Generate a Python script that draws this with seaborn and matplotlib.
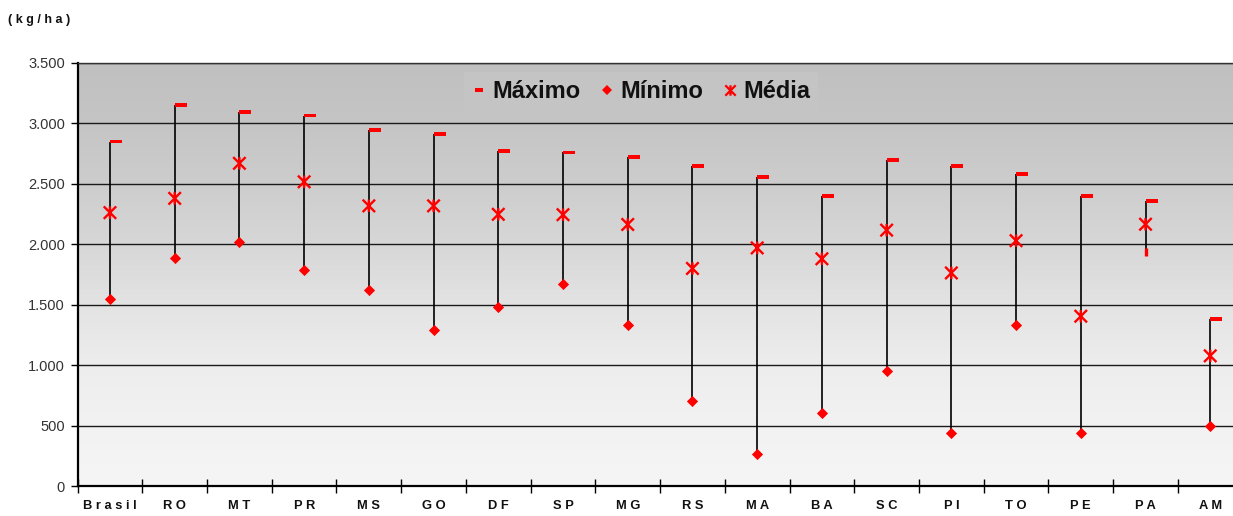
import numpy as np
import pandas as pd
import matplotlib
matplotlib.use("Agg")
import matplotlib.pyplot as plt
from matplotlib.path import Path
from matplotlib.lines import Line2D
from matplotlib.ticker import FuncFormatter
import seaborn as sns

# ---------------- data ----------------
categories = ["Brasil", "RO", "MT", "PR", "MS", "GO", "DF", "SP", "MG",
              "RS", "MA", "BA", "SC", "PI", "TO", "PE", "PA", "AM"]
maximo = [2850, 3155, 3095, 3065, 2945, 2915, 2775, 2760, 2725,
          2650, 2555, 2400, 2695, 2650, 2585, 2400, 2355, 1385]
minimo = [1545, 1888, 2015, 1790, 1625, 1290, 1483, 1670, 1335,
          700, 268, 606, 953, 436, 1330, 436, 1935, 500]
media = [2262, 2380, 2670, 2517, 2318, 2318, 2248, 2245, 2164,
         1800, 1970, 1880, 2117, 1763, 2030, 1405, 2166, 1077]
y_ticks = [0, 500, 1000, 1500, 2000, 2500, 3000, 3500]
legend_labels = ["Máximo", "Mínimo", "Média"]
unit_label = "(kg/ha)"

# ---------------- style ----------------
sns.set_theme(style="white")
plt.rcParams["font.family"] = ["Liberation Sans", "DejaVu Sans"]

df = pd.DataFrame({"estado": categories, "max": maximo,
                   "min": minimo, "media": media})
n = len(categories)

W, H = 1233, 516
fig = plt.figure(figsize=(W / 100, H / 100), dpi=100)
fig.patch.set_facecolor("white")
ax = fig.add_axes([77.6 / W, 30 / H, 1165 / W, 423 / H])

# gradient background (gray at top -> near white at bottom)
gy = np.linspace(0, 1, 256)
gstops_y = [0.0, 0.143, 0.286, 0.429, 0.571, 0.714, 0.857, 1.0]
gstops_v = [245, 242, 237, 227, 215, 205, 197, 192]
gvals = np.interp(gy, gstops_y, gstops_v) / 255.0
grad = np.dstack([gvals, gvals, gvals]).reshape(256, 1, 3)
ax.imshow(grad, extent=(-0.5, n - 0.5, 0, 3500), origin="lower",
          aspect="auto", zorder=0, interpolation="bilinear")

# markers
dash_marker = Path([(0, -0.16), (1, -0.16), (1, 0.16), (0, 0.16), (0, -0.16)],
                   [Path.MOVETO, Path.LINETO, Path.LINETO, Path.LINETO, Path.CLOSEPOLY])
dash_center = Path([(-1, -0.45), (1, -0.45), (1, 0.45), (-1, 0.45), (-1, -0.45)],
                   [Path.MOVETO, Path.LINETO, Path.LINETO, Path.LINETO, Path.CLOSEPOLY])
star_marker = Path([(-1, -1), (1, 1), (-1, 1), (1, -1), (0, -1), (0, 1)],
                   [Path.MOVETO, Path.LINETO, Path.MOVETO, Path.LINETO,
                    Path.MOVETO, Path.LINETO])

# vertical range lines
ax.vlines(df["estado"], df["min"], df["max"], colors="black",
          linewidth=1.2, zorder=3)

sns.scatterplot(data=df, x="estado", y="max", marker=dash_marker, s=300,
                color="red", edgecolor="none", linewidth=0, ax=ax, zorder=4,
                legend=False)
odd = df["estado"] == "PA"
sns.scatterplot(data=df[~odd], x="estado", y="min", marker="D", s=26,
                color="red", edgecolor="red", linewidth=0.6, ax=ax, zorder=4,
                legend=False)
sns.scatterplot(data=df[odd], x="estado", y="min", marker="|", s=30,
                color="red", linewidth=2.4, ax=ax, zorder=4, legend=False)
sns.scatterplot(data=df, x="estado", y="media", marker=star_marker, s=80,
                color="red", facecolor="none", edgecolor="red", linewidth=1.7,
                ax=ax, zorder=5, legend=False)

# axes
ax.set_xlim(-0.5, n - 0.5)
ax.set_ylim(0, 3500)
ax.set_xlabel("")
ax.set_ylabel("")
ax.set_yticks(y_ticks)
ax.yaxis.set_major_formatter(FuncFormatter(lambda v, p: f"{int(v):,}".replace(",", ".")))
ax.yaxis.grid(True, color="#1a1a1a", linewidth=1.0)
ax.xaxis.grid(False)
ax.set_axisbelow(True)

ax.set_xticks(range(n))
ax.set_xticklabels([" ".join(c) for c in categories])
ax.set_xticks(np.arange(-0.5, n, 1.0), minor=True)
ax.tick_params(axis="x", which="major", length=0, pad=10, labelsize=9.3,
               labelcolor="#111111")
ax.tick_params(axis="x", which="minor", bottom=True, direction="inout",
               length=10, width=1.0, color="black")
ax.tick_params(axis="y", which="major", left=True, direction="out",
               length=5, width=1.0, color="black", labelsize=10.5,
               labelcolor="#333333", pad=4)
for lbl in ax.get_xticklabels():
    lbl.set_fontweight("bold")

for side in ["left", "bottom"]:
    ax.spines[side].set_color("black")
    ax.spines[side].set_linewidth(1.6)
ax.spines["top"].set_color("#333333")
ax.spines["top"].set_linewidth(1.0)
ax.spines["right"].set_visible(False)

# unit label
fig.text(8 / W, 1 - 20 / H, " ".join(unit_label), fontsize=9,
         fontweight="bold", ha="left", va="center", color="#111111")

# legend
handles = [
    Line2D([], [], marker=dash_center, linestyle="none", color="red",
           markersize=5.5, markeredgewidth=0),
    Line2D([], [], marker="D", linestyle="none", color="red",
           markersize=4.6, markeredgewidth=0),
    Line2D([], [], marker=star_marker, linestyle="none", color="red",
           markerfacecolor="none", markersize=7.5, markeredgewidth=1.6),
]
leg = fig.legend(handles, legend_labels, loc="center",
                 bbox_to_anchor=(641 / W, 1 - 92 / H), ncol=3, frameon=True,
                 fancybox=False, facecolor="#c4c4c4", edgecolor="none",
                 framealpha=1.0, borderpad=0.35,
                 prop=dict(weight="bold", size=17), handlelength=0.6,
                 handletextpad=0.25, columnspacing=0.85, labelcolor="#111111")

fig.savefig("out.png", dpi=100)
